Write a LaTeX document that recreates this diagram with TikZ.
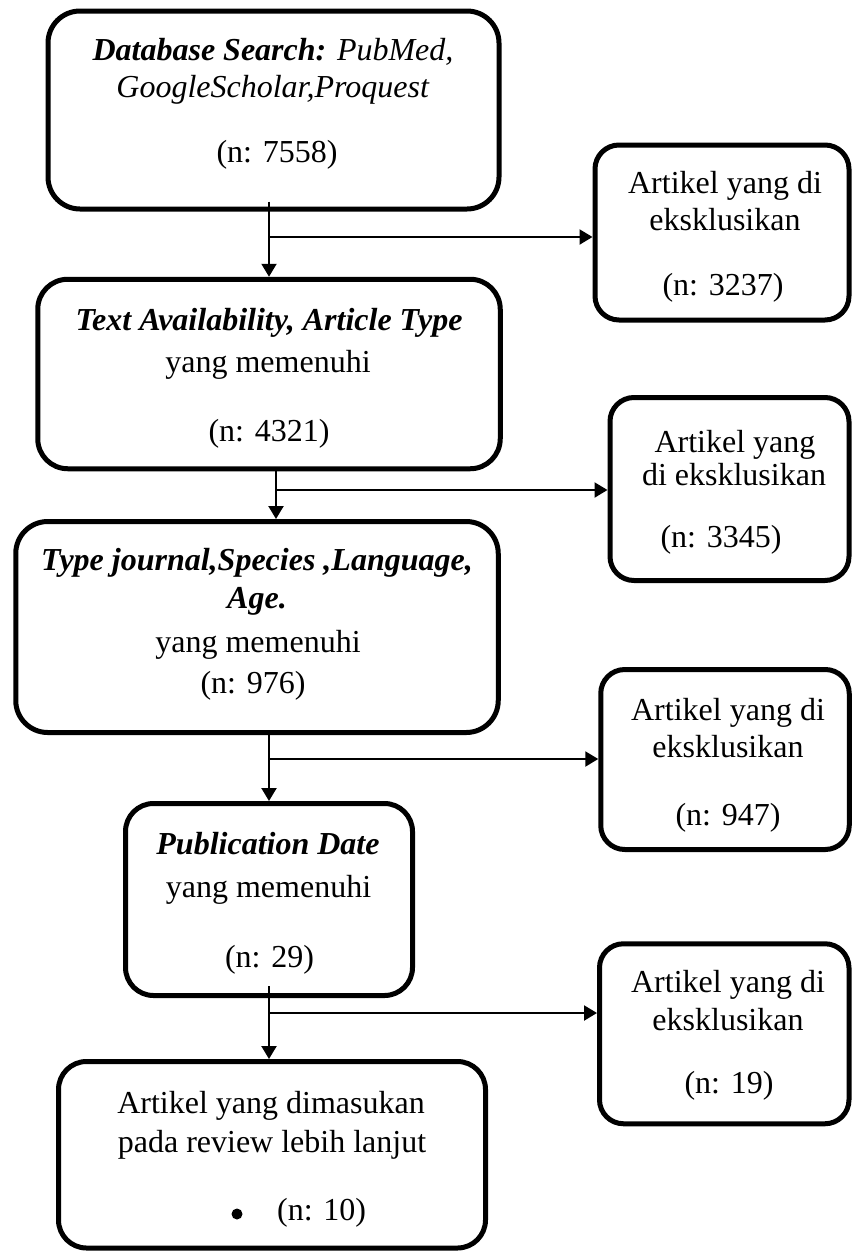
\documentclass[tikz,border=0pt]{standalone}
\usepackage{fontspec}
\setmainfont{Liberation Serif}
\usetikzlibrary{arrows.meta,calc}
\begin{document}
\begin{tikzpicture}[x=1pt,y=-1pt,
  box/.style={draw=black, line width=5pt, rounded corners=#1, inner sep=0pt},
  box/.default=30pt,
  txt/.style={font=\fontsize{32}{38}\selectfont, inner sep=0pt, anchor=base},
  conn/.style={line width=2.2pt},
  arr/.style={conn, -{Triangle[length=13pt,width=15pt]}}]
\useasboundingbox (0,0) rectangle (852,1251);

% main column boxes
\node[box=32pt, minimum width=451pt, minimum height=198pt] (b1) at (273.5,110) {};
\node[box=30pt, minimum width=462.5pt, minimum height=189.5pt] (b2) at (269,374) {};
\node[box=32pt, minimum width=482.5pt, minimum height=211pt] (b3) at (257,627) {};
\node[box=28pt, minimum width=287pt, minimum height=192pt] (b4) at (269,899.5) {};
\node[box=28pt, minimum width=427pt, minimum height=186.5pt] (b5) at (272,1154.75) {};

% exclusion boxes
\node[box=24pt, minimum width=254pt, minimum height=175pt] (bA) at (722,232.5) {};
\node[box=24pt, minimum width=239pt, minimum height=183pt] (bB) at (729.5,489) {};
\node[box=24pt, minimum width=248.5pt, minimum height=180pt] (bC) at (725,759.5) {};
\node[box=24pt, minimum width=249.5pt, minimum height=180pt] (bD) at (724.25,1033.75) {};

% texts
\node[txt] (t1a) at (273,60) {\textit{\textbf{Database Search:} PubMed,}};
\node[txt] (t1b) at (273,97) {\textit{GoogleScholar,Proquest}};
\node[txt] (t1c) at (277,162) {(n: 7558)};

\node[txt] (tAa) at (725,193) {Artikel yang di};
\node[txt] (tAb) at (725,230) {eksklusikan};
\node[txt] (tAc) at (723,295) {(n: 3237)};

\node[txt] (t2a) at (269,330) {\textbf{\textit{Text Availability, Article Type}}};
\node[txt] (t2b) at (268,372) {yang memenuhi};
\node[txt] (t2c) at (269,441) {(n: 4321)};

\node[txt] (tBa) at (735,452) {Artikel yang};
\node[txt] (tBb) at (734,485) {di eksklusikan};
\node[txt] (tBc) at (721,547) {(n: 3345)};

\node[txt] (t3a) at (257,570) {\textbf{\textit{Type journal,Species ,Language,}}};
\node[txt] (t3b) at (257,608) {\textbf{\textit{Age.}}};
\node[txt] (t3c) at (258,652) {yang memenuhi};
\node[txt] (t3d) at (253,693) {(n: 976)};

\node[txt] (tCa) at (728,720) {Artikel yang di};
\node[txt] (tCb) at (728,757) {eksklusikan};
\node[txt] (tCc) at (728,825) {(n: 947)};

\node[txt] (t4a) at (268,854) {\textbf{\textit{Publication Date}}};
\node[txt] (t4b) at (268.5,897) {yang memenuhi};
\node[txt] (t4c) at (269.5,967) {(n: 29)};

\node[txt] (tDa) at (728,992) {Artikel yang di};
\node[txt] (tDb) at (728,1030) {eksklusikan};
\node[txt] (tDc) at (729,1093) {(n: 19)};

\node[txt] (t5a) at (271,1113) {Artikel yang dimasukan};
\node[txt] (t5b) at (272,1152) {pada review lebih lanjut};
\node[circle, fill=black, inner sep=0pt, minimum size=11pt] (t5bul) at (237,1214) {};
\node[txt, anchor=base west] (t5c) at (277,1220) {(n: 10)};

% connectors
\coordinate (j1) at (269,237);
\coordinate (j2) at (276,490);
\coordinate (j3) at (269,759);
\coordinate (j4) at (269,1013);

\draw[arr] ($(b1.south -| j1)+(0,-10)$) -- (b2.north -| j1);
\draw[arr] (j1) -- (j1 -| bA.west);
\draw[arr] (b2.south -| j2) -- (b3.north -| j2);
\draw[arr] (j2) -- (j2 -| bB.west);
\draw[arr] (b3.south -| j3) -- (b4.north -| j3);
\draw[arr] (j3) -- (j3 -| bC.west);
\draw[arr] ($(b4.south -| j4)+(0,-12)$) -- (b5.north -| j4);
\draw[arr] (j4) -- (j4 -| bD.west);
\end{tikzpicture}
\end{document}
